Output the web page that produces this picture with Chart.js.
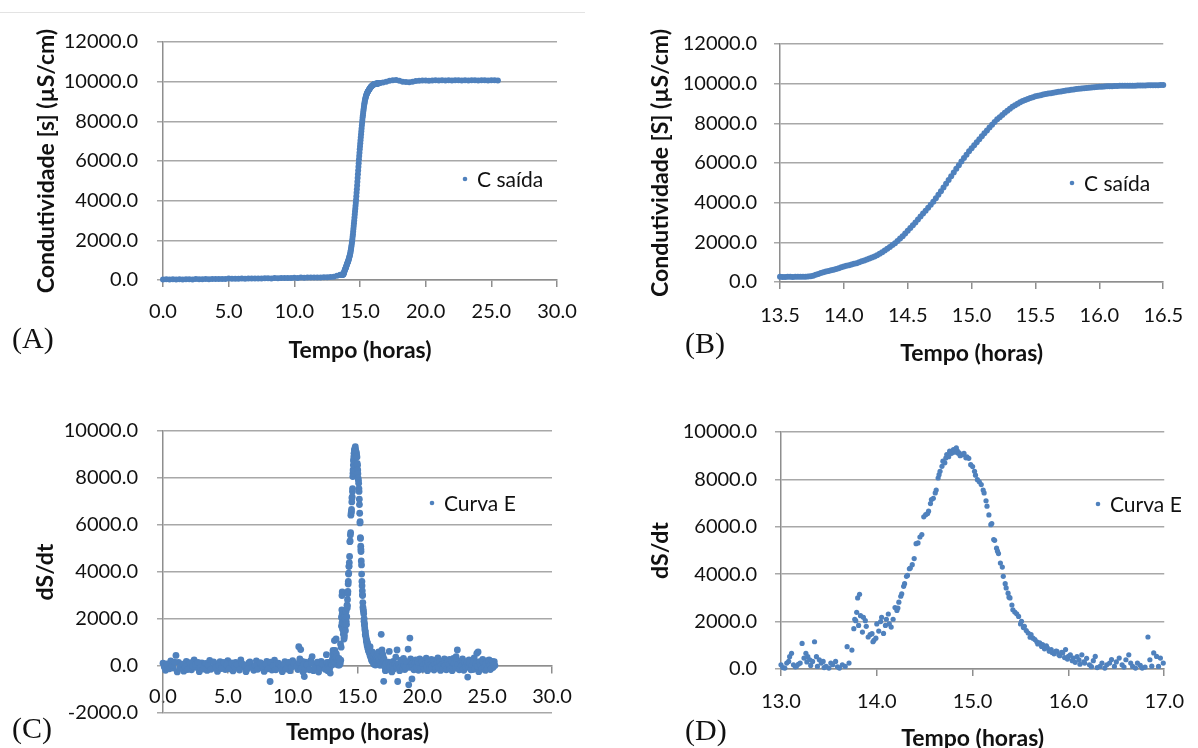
<!DOCTYPE html>
<html lang="pt">
<head>
<meta charset="utf-8">
<title>Condutividade e curva E</title>
<script src="https://cdn.jsdelivr.net/npm/chart.js@4.4.1/dist/chart.umd.min.js"></script>
<style>
  html, body { margin: 0; padding: 0; background: #fff; overflow: hidden; }
  #fig { position: relative; width: 1198px; height: 748px; }
  #fig canvas { position: absolute; }
  .letra { position: absolute; font-family: 'Liberation Serif', serif; font-size: 30px; line-height: 30px; color: #111; }
  .linhaTopo { position: absolute; left: 0; top: 12px; width: 585px; height: 1px; background: #e3e3e3; }
</style>
</head>
<body>
<div id="fig">
  <div class="linhaTopo"></div>
  <canvas id="graficoA" width="599" height="374" style="left:0;top:0"></canvas>
  <canvas id="graficoB" width="599" height="374" style="left:599px;top:0"></canvas>
  <canvas id="graficoC" width="599" height="374" style="left:0;top:374px"></canvas>
  <canvas id="graficoD" width="599" height="378" style="left:599px;top:374px"></canvas>
  <div class="letra" style="left:12px;top:323px">(A)</div>
  <div class="letra" style="left:685px;top:328px">(B)</div>
  <div class="letra" style="left:12px;top:713px">(C)</div>
  <div class="letra" style="left:685px;top:715px">(D)</div>
</div>
<script>
// ==========================================
// dados: [tempo (h), valor]
// ==========================================
// C saida - antes do degrau
const saidaInicio = [
  [0.00,20],[0.25,35],[0.50,25],[0.75,40],[1.00,30],[1.25,35],[1.50,30],[1.75,40],[2.00,35],[2.25,30],
  [2.50,45],[2.75,40],[3.00,35],[3.25,45],[3.50,40],[3.75,50],[4.00,45],[4.25,50],[4.50,45],[4.75,55],
  [5.00,70],[5.25,60],[5.50,65],[5.75,60],[6.00,70],[6.25,65],[6.50,75],[6.75,70],[7.00,80],[7.25,75],
  [7.50,70],[7.75,85],[8.00,90],[8.25,80],[8.50,95],[8.75,90],[9.00,100],[9.25,95],[9.50,100],[9.75,105],
  [10.00,110],[10.25,105],[10.50,120],[10.75,115],[11.00,120],[11.25,125],[11.50,120],[11.75,130],[12.00,125],[12.25,135],
  [12.50,140],[12.75,150],[13.00,170],[13.25,220]
];
// C saida - subida (13.5 a 16.5 h, grafico B)
const saidaZoom = [
  [13.50,260],[13.52,258],[13.54,255],[13.56,262],[13.58,265],[13.60,258],[13.62,260],[13.64,265],[13.66,270],[13.68,268],
  [13.70,265],[13.72,275],[13.74,290],[13.76,320],[13.78,360],[13.80,405],[13.82,450],[13.84,490],[13.86,530],[13.88,560],
  [13.90,590],[13.92,620],[13.94,650],[13.96,695],[13.98,740],[14.00,780],[14.02,820],[14.04,850],[14.06,880],[14.08,915],
  [14.10,950],[14.12,995],[14.14,1040],[14.16,1085],[14.18,1130],
  [14.20,1180],[14.22,1240],[14.24,1290],[14.26,1350],[14.28,1420],[14.30,1500],[14.32,1590],[14.34,1680],[14.36,1760],[14.38,1860],
  [14.40,1960],[14.42,2070],[14.44,2190],[14.46,2310],[14.48,2450],[14.50,2590],[14.52,2720],[14.54,2860],[14.56,3000],[14.58,3150],
  [14.60,3300],[14.62,3450],[14.64,3590],[14.66,3740],[14.68,3890],[14.70,4050],[14.72,4220],[14.74,4400],[14.76,4580],[14.78,4760],
  [14.80,4950],[14.82,5140],[14.84,5330],[14.86,5520],[14.88,5710],[14.90,5890],[14.92,6070],[14.94,6250],[14.96,6420],[14.98,6590],
  [15.00,6750],[15.02,6900],[15.04,7050],[15.06,7200],[15.08,7350],[15.10,7500],[15.12,7640],[15.14,7790],[15.16,7930],[15.18,8070],
  [15.20,8200],[15.22,8310],[15.24,8420],[15.26,8530],[15.28,8640],[15.30,8740],[15.32,8830],[15.34,8910],[15.36,8990],[15.38,9060],
  [15.40,9130],[15.42,9180],[15.44,9230],[15.46,9280],[15.48,9320],[15.50,9360],[15.52,9390],[15.54,9420],[15.56,9450],[15.58,9475],
  [15.60,9500],[15.62,9520],[15.64,9540],[15.66,9565],[15.68,9590],[15.70,9610],[15.72,9630],[15.74,9650],[15.76,9670],[15.78,9690],
  [15.80,9710],[15.82,9725],[15.84,9740],[15.86,9755],[15.88,9770],[15.90,9780],[15.92,9790],[15.94,9805],[15.96,9820],[15.98,9830],
  [16.00,9840],[16.02,9850],[16.04,9860],[16.06,9865],[16.08,9870],[16.10,9875],[16.12,9880],[16.14,9885],[16.16,9890],[16.18,9890],
  [16.20,9890],[16.22,9895],[16.24,9900],[16.26,9900],[16.28,9900],[16.30,9905],[16.32,9910],[16.34,9910],[16.36,9910],[16.38,9915],
  [16.40,9920],[16.42,9920],[16.44,9920],[16.46,9925],[16.48,9930],[16.50,9930]
];
// C saida - patamar
const saidaFim = [
  [16.75,9960],[17.00,10000],[17.25,10040],[17.50,10070],[17.75,10080],[18.00,10050],[18.25,10000],[18.50,9980],[18.75,9975],[19.00,9990],
  [19.25,10030],[19.50,10050],[19.75,10060],[20.00,10060],[20.25,10050],[20.50,10060],[20.75,10070],[21.00,10060],[21.25,10070],[21.50,10060],
  [21.75,10070],[22.00,10060],[22.25,10070],[22.50,10070],[22.75,10060],[23.00,10070],[23.25,10060],[23.50,10070],[23.75,10070],[24.00,10060],
  [24.25,10070],[24.50,10070],[24.75,10060],[25.00,10070],[25.25,10070],[25.50,10060]
];

// Curva E (dS/dt) - ruido inicial (duas leituras intercaladas)
const curvaEInicio = [
  [0.0,120],[0.2,-180],[0.4,40],[0.6,220],[0.8,-90],[1.0,450],[1.1,-250],[1.2,150],[1.4,-30],[1.6,-220],
  [1.8,200],[2.0,60],[2.2,-160],[2.4,260],[2.6,-60],[2.8,-240],[3.0,130],[3.2,20],[3.4,-190],[3.6,240],
  [3.8,-80],[4.0,100],[4.2,-230],[4.4,180],[4.6,-20],[4.8,-150],[5.0,230],[5.2,40],[5.4,-210],[5.6,150],
  [5.8,-100],[6.0,260],[6.2,-40],[6.4,-240],[6.6,120],[6.8,10],[7.0,-180],[7.2,220],[7.4,-70],[7.6,90],
  [7.8,-230],[8.0,200],[8.2,-20],[8.26,-660],[8.4,-170],[8.6,250],[8.8,-90],[9.0,60],[9.2,-240],[9.4,190],
  [9.6,-10],[9.8,-200],[10.0,230],[10.2,60],[10.4,-150],[10.47,820],[10.55,300],[10.62,700],[10.7,-60],[10.8,-250],
  [10.9,-450],[11.0,160],[11.2,-100],[11.4,240],[11.5,400],[11.6,-200],[11.8,40],[12.0,-260],[12.2,200],[12.4,-60],
  [12.6,480],[12.7,-200],[12.8,150],[12.9,-300]
];
const curvaEInicio2 = [
  [0.1,-40],[0.3,90],[0.5,-120],[0.7,30],[0.9,160],[1.3,-100],[1.5,80],[1.7,-40],[1.9,-150],[2.1,140],
  [2.3,-20],[2.5,60],[2.7,150],[2.9,-60],[3.1,-130],[3.3,110],[3.5,30],[3.7,-140],[3.9,170],[4.1,-60],
  [4.3,20],[4.5,-110],[4.7,150],[4.9,50],[5.1,-120],[5.3,130],[5.5,-30],[5.7,60],[5.9,-170],[6.1,100],
  [6.3,40],[6.5,-130],[6.7,170],[6.9,-60],[7.1,30],[7.3,-140],[7.5,140],[7.7,-10],[7.9,80],[8.1,-120],
  [8.3,160],[8.5,20],[8.7,-160],[8.9,120],[9.1,-40],[9.3,60],[9.5,-130],[9.7,150],[9.9,-50],[10.1,100],
  [10.3,-30],[10.5,150],[10.65,-120],[10.75,200],[10.85,60],[10.95,-150],[11.1,50],[11.3,-160],[11.45,120],[11.7,-60],
  [11.9,160],[12.1,-90],[12.3,80],[12.5,-140],[12.65,150],[12.75,40],[12.85,-120],[12.95,90]
];
// Curva E - pico (13 a 17 h, grafico D)
const curvaEZoom = [
  [13.00,180],[13.02,60],[13.04,40],[13.06,250],[13.08,320],[13.09,520],[13.11,660],[13.13,180],[13.15,90],[13.16,110],
  [13.18,200],[13.20,250],[13.22,1080],[13.24,460],[13.26,660],[13.27,300],[13.28,520],[13.30,390],[13.31,150],[13.33,320],
  [13.35,1150],[13.37,520],[13.38,110],[13.40,390],[13.42,250],[13.44,320],[13.45,60],[13.47,110],[13.50,40],[13.52,250],
  [13.54,180],[13.57,320],[13.59,90],[13.61,40],[13.64,180],[13.67,110],[13.69,940],[13.71,250],[13.74,800],
  [13.76,1700],[13.77,2100],[13.78,2040],[13.79,2390],[13.80,3000],[13.81,1840],[13.82,3150],[13.83,2250],[13.85,1560],[13.86,2180],
  [13.88,2040],[13.89,1800],[13.91,1350],[13.93,1450],[13.95,1490],[13.96,1150],[13.97,1210],[13.99,1300],[14.00,1900],[14.02,1600],
  [14.04,2000],[14.05,2180],[14.07,1500],[14.09,1840],[14.10,2100],[14.12,2320],[14.13,1900],[14.15,1770],[14.17,2100],[14.19,2590],
  [14.21,2470],[14.22,2570],[14.23,2820],[14.25,3070],[14.26,3170],[14.28,3490],[14.29,3600],[14.31,3910],[14.32,3950],[14.34,4230],
  [14.35,4260],[14.37,4400],[14.39,4660],[14.41,5290],[14.43,5320],[14.45,5570],[14.47,5670],[14.49,6420],[14.51,6510],[14.53,6560],
  [14.54,6660],[14.56,6980],[14.57,7150],[14.59,7200],[14.61,7430],[14.62,7550],[14.64,8060],[14.65,8200],[14.66,8340],[14.68,8550],
  [14.69,8770],[14.71,8700],[14.72,8900],[14.73,9050],[14.75,8960],[14.76,9190],[14.78,9100],[14.80,9260],[14.81,9150],[14.82,9240],
  [14.83,9330],[14.84,9200],[14.85,9100],[14.86,9120],[14.87,9000],[14.88,9030],[14.90,9050],[14.91,9100],[14.93,8910],[14.94,8950],
  [14.96,8890],[14.98,8620],[15.00,8540],[15.02,8340],[15.03,8180],[15.05,7990],[15.07,7900],[15.09,7780],[15.11,7550],[15.12,7430],
  [15.14,7100],[15.15,6870],[15.17,6500],[15.19,6090],[15.20,6140],[15.22,5460],[15.23,5430],[15.25,5100],[15.26,4970],[15.27,4870],
  [15.29,4470],[15.31,4300],[15.32,3910],[15.34,3600],[15.35,3420],[15.37,3200],[15.38,3030],[15.39,3000],[15.41,2700],[15.42,2500],
  [15.44,2400],[15.46,2330],[15.48,2220],[15.50,1900],[15.51,2010],[15.53,1750],[15.54,1800],[15.56,1620],[15.58,1520],[15.60,1340],
  [15.61,1450],[15.63,1300],[15.65,1240],[15.67,1150],[15.68,1060],[15.70,1100],[15.72,950],[15.73,1030],[15.75,850],[15.77,980],
  [15.78,890],[15.80,750],[15.82,820],[15.83,700],[15.85,640],[15.87,760],[15.88,750],[15.90,600],[15.91,560],[15.93,700],
  [15.94,680],[15.96,480],[15.97,820],[15.99,420],[16.00,530],[16.02,600],[16.04,350],[16.05,460],[16.07,280],[16.09,520],
  [16.11,390],[16.12,200],[16.14,600],[16.16,300],[16.17,250],[16.19,450],[16.22,180],[16.24,100],[16.26,350],[16.28,530],
  [16.30,60],[16.33,110],[16.35,250],[16.38,40],[16.40,180],[16.43,250],[16.45,400],[16.48,110],[16.50,300],[16.53,460],
  [16.56,180],[16.58,80],[16.60,390],[16.63,600],[16.65,250],[16.67,110],[16.70,40],[16.72,250],[16.75,150],[16.77,40],
  [16.80,80],[16.83,1350],[16.85,390],[16.87,120],[16.89,680],[16.92,530],[16.94,110],[16.96,460],[16.99,250]
];
// Curva E - ruido final (duas leituras intercaladas)
const curvaEFim = [
  [17.02,-650],[17.05,300],[17.15,-200],[17.25,150],[17.35,-80],[17.45,620],[17.55,40],[17.65,-250],[17.75,200],[17.85,-60],
  [17.95,380],[18.05,680],[18.10,-660],[18.15,100],[18.25,-200],[18.35,250],[18.45,-40],[18.55,320],[18.65,-150],[18.75,120],
  [18.90,720],[18.95,-800],[19.04,1190],[19.10,300],[19.20,-550],[19.30,180],[19.40,-100],[19.50,260],[19.60,20],[19.70,-180],
  [19.80,300],[19.90,80],[20.00,-140],[20.10,240],[20.20,-20],[20.30,330],[20.40,-200],[20.50,120],[20.60,-60],[20.70,280],
  [20.80,30],[20.90,-170],[21.00,250],[21.10,-40],[21.20,350],[21.30,100],[21.40,-190],[21.50,200],[21.60,-20],[21.70,300],
  [21.80,-120],[21.90,150],[22.00,-60],[22.10,280],[22.20,40],[22.30,-200],[22.40,320],[22.50,90],[22.60,400],[22.70,680],
  [22.80,-100],[22.90,200],[23.00,-30],[23.10,300],[23.20,-180],[23.30,140],[23.40,40],[23.50,-470],[23.60,260],[23.70,-80],
  [23.80,180],[23.90,-150],[24.00,350],[24.10,-60],[24.20,540],[24.30,600],[24.35,-240],[24.45,150],[24.55,-120],[24.65,280],
  [24.75,20],[24.85,-180],[24.95,220],[25.05,-40],[25.15,260],[25.25,-150],[25.35,120],[25.45,-60],[25.55,180],[25.60,20]
];
const curvaEFim2 = [
  [17.10,-40],[17.20,100],[17.30,-150],[17.40,160],[17.50,-60],[17.60,120],[17.70,20],[17.80,-130],[17.90,90],[18.00,-30],
  [18.20,60],[18.30,-80],[18.40,150],[18.50,-120],[18.60,40],[18.70,-40],[18.80,180],[19.00,-60],[19.15,80],[19.25,-20],
  [19.35,-160],[19.45,120],[19.55,-60],[19.65,150],[19.75,60],[19.85,-100],[19.95,180],[20.05,40],[20.15,-120],[20.25,100],
  [20.35,-40],[20.45,160],[20.55,-110],[20.65,60],[20.75,-20],[20.85,200],[20.95,70],[21.05,-100],[21.15,140],[21.25,-60],
  [21.35,200],[21.45,40],[21.55,-120],[21.65,100],[21.75,30],[21.85,-160],[21.95,180],[22.05,60],[22.15,-120],[22.25,200],
  [22.35,-40],[22.45,100],[22.55,-90],[22.65,220],[22.75,60],[22.85,-160],[22.95,100],[23.05,30],[23.15,-120],[23.25,180],
  [23.35,-60],[23.45,140],[23.55,-20],[23.65,120],[23.75,-160],[23.85,40],[23.95,180],[24.05,-120],[24.15,100],[24.25,-20],
  [24.40,180],[24.50,40],[24.60,-120],[24.70,150],[24.80,-30],[24.90,100],[25.00,-120],[25.10,160],[25.20,20],[25.30,-100],
  [25.40,200],[25.50,40]
];

// ticks dos eixos
const ticksTempoAC = [0, 5, 10, 15, 20, 25, 30];
const ticksTempoB = [13.5, 14, 14.5, 15, 15.5, 16, 16.5];
const ticksTempoD = [13, 14, 15, 16, 17];
const ticksCond = [0, 2000, 4000, 6000, 8000, 10000, 12000];
const ticksCurvaC = [-2000, 0, 2000, 4000, 6000, 8000, 10000];
const ticksCurvaD = [0, 2000, 4000, 6000, 8000, 10000];

// ==========================================
// estilo
// ==========================================
const AZUL = '#4F81BD';
const COR_GRADE = '#a8a8a8';
const COR_EIXO = '#8e8e8e';
const COR_TEXTO = '#111';
const FONTE = 'Lato, "Open Sans", sans-serif';
const FONTE_TICK = { family: FONTE, size: 20 };
const FONTE_TITULO = { family: FONTE, size: 23, weight: 'bold' };

const emPontos = arr => arr.map(p => ({ x: p[0], y: p[1] }));

// legenda desenhada dentro da area do grafico (como no Excel)
const legendaInterna = {
  id: 'legendaInterna',
  afterDraw(chart, args, opts) {
    const ctx = chart.ctx; const ds = chart.data.datasets[0];
    ctx.save();
    ctx.fillStyle = ds.backgroundColor;
    ctx.beginPath(); ctx.arc(opts.x, opts.y, 2.3, 0, Math.PI * 2); ctx.fill();
    ctx.fillStyle = COR_TEXTO; ctx.font = '21px ' + FONTE; ctx.textBaseline = 'middle';
    ctx.fillText(ds.label, opts.x + 12, opts.y + 1);
    ctx.restore();
  }
};

function montarGrafico(id, cfg) {
  const ctx = document.getElementById(id); if(!ctx) return;
  return new Chart(ctx.getContext('2d'), {
    type: 'scatter',
    data: { datasets: [{ label: cfg.legenda, data: cfg.pontos, backgroundColor: AZUL, borderWidth: 0, pointRadius: cfg.raio, pointHoverRadius: cfg.raio, clip: false }] },
    options: {
      responsive: false, animation: false, devicePixelRatio: 1, events: [],
      layout: { padding: cfg.area },
      plugins: { legend: { display: false }, tooltip: { enabled: false }, legendaInterna: { x: cfg.legenda_xy[0], y: cfg.legenda_xy[1] } },
      scales: {
        x: {
          type: 'linear', position: cfg.posX || 'bottom',
          min: cfg.ticksX[0], max: cfg.ticksX[cfg.ticksX.length - 1],
          afterBuildTicks: s => { s.ticks = cfg.ticksX.map(v => ({ value: v })); },
          afterFit: s => { s.height = cfg.alturaX; },
          grid: { drawOnChartArea: false, drawTicks: true, tickLength: 7, color: COR_EIXO, lineWidth: 1.5 },
          border: { display: true, color: COR_EIXO, width: 1.5 },
          ticks: { padding: cfg.padTickX, color: COR_TEXTO, font: FONTE_TICK, autoSkip: false, maxRotation: 0, callback: v => v.toFixed(1) },
          title: { display: true, text: 'Tempo (horas)', color: COR_TEXTO, font: FONTE_TITULO, padding: { top: 0, bottom: cfg.padTituloX } }
        },
        y: {
          type: 'linear', position: 'left',
          min: cfg.ticksY[0], max: cfg.ticksY[cfg.ticksY.length - 1],
          afterBuildTicks: s => { s.ticks = cfg.ticksY.map(v => ({ value: v })); },
          afterFit: s => { s.width = cfg.larguraY; },
          grid: { color: COR_GRADE, lineWidth: 1.5, tickLength: 6 },
          border: { display: true, color: COR_EIXO, width: 1.5 },
          ticks: { padding: cfg.padTickY, color: COR_TEXTO, font: FONTE_TICK, callback: v => v.toFixed(1) },
          title: { display: true, text: cfg.tituloY, color: COR_TEXTO, font: FONTE_TITULO, padding: { top: cfg.padTituloY, bottom: 0 } }
        }
      }
    },
    plugins: [legendaInterna]
  });
}

// (A) condutividade - ensaio completo
montarGrafico('graficoA', {
  legenda: 'C saída', pontos: emPontos(saidaInicio.concat(saidaZoom, saidaFim)), raio: 3,
  ticksX: ticksTempoAC, ticksY: ticksCond, tituloY: 'Condutividade [s] (µS/cm)',
  area: { left: 0, top: 42, right: 42, bottom: 0 }, larguraY: 163, alturaX: 94,
  padTickX: 13, padTickY: 19, padTituloX: 10, padTituloY: 33, legenda_xy: [465, 179]
});
// (B) condutividade - detalhe da subida
montarGrafico('graficoB', {
  legenda: 'C saída', pontos: emPontos(saidaZoom), raio: 3,
  ticksX: ticksTempoB, ticksY: ticksCond, tituloY: 'Condutividade [S] (µS/cm)',
  area: { left: 0, top: 44, right: 23, bottom: 0 }, larguraY: 181, alturaX: 92,
  padTickX: 15, padTickY: 17, padTituloX: 7, padTituloY: 48, legenda_xy: [473, 183]
});
// (C) curva E - ensaio completo (eixo x cruza em 0)
montarGrafico('graficoC', {
  legenda: 'Curva E', pontos: emPontos(curvaEInicio.concat(curvaEInicio2, curvaEZoom, curvaEFim, curvaEFim2)), raio: 3.4,
  ticksX: ticksTempoAC, ticksY: ticksCurvaC, tituloY: 'dS/dt', posX: { y: 0 },
  area: { left: 0, top: 57, right: 47, bottom: 35 }, larguraY: 163, alturaX: 80,
  padTickX: 12, padTickY: 19, padTituloX: 0, padTituloY: 32, legenda_xy: [432, 129]
});
// (D) curva E - detalhe do pico
montarGrafico('graficoD', {
  legenda: 'Curva E', pontos: emPontos(curvaEZoom), raio: 2.6,
  ticksX: ticksTempoD, ticksY: ticksCurvaD, tituloY: 'dS/dt',
  area: { left: 0, top: 58, right: 25, bottom: 0 }, larguraY: 182, alturaX: 83,
  padTickX: 14, padTickY: 18, padTituloX: 0, padTituloY: 48, legenda_xy: [499, 130]
});
</script>
</body>
</html>
